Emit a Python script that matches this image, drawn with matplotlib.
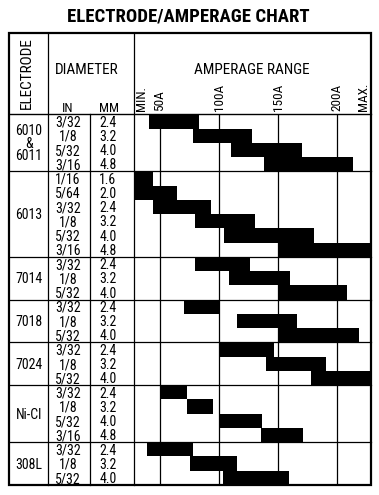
"""Electrode / amperage chart recreated as a table with range bars."""
import matplotlib.pyplot as plt
from matplotlib.patches import Rectangle

W, H, DPI = 379, 495, 100

electrodes = ["6010\n&\n6011", "6013", "7014", "7018", "7024", "Ni-Cl", "308L"]
dia_in = [
    ["3/32", "1/8", "5/32", "3/16"],
    ["1/16", "5/64", "3/32", "1/8", "5/32", "3/16"],
    ["3/32", "1/8", "5/32"],
    ["3/32", "1/8", "5/32"],
    ["3/32", "1/8", "5/32"],
    ["3/32", "1/8", "5/32", "3/16"],
    ["3/32", "1/8", "5/32"],
]
dia_mm = [
    ["2.4", "3.2", "4.0", "4.8"],
    ["1.6", "2.0", "2.4", "3.2", "4.0", "4.8"],
    ["2.4", "3.2", "4.0"],
    ["2.4", "3.2", "4.0"],
    ["2.4", "3.2", "4.0"],
    ["2.4", "3.2", "4.0", "4.8"],
    ["2.4", "3.2", "4.0"],
]
AMP_MIN, AMP_MAX = 28, 228
amp_lo = [
    [41, 78, 110, 138],
    [AMP_MIN, AMP_MIN, 44, 80, 104, 150],
    [80, 108, 150],
    [70, 115, 150],
    [100, 140, 178],
    [51, 73, 100, 135],
    [39, 75, 103],
]
amp_hi = [
    [83, 128, 170, 213],
    [44, 64, 93, 130, 180, AMP_MAX],
    [126, 160, 208],
    [100, 166, 218],
    [146, 190, AMP_MAX],
    [73, 95, 136, 171],
    [78, 115, 159],
]
grid_amps = [50, 100, 150, 200]
tick_pos = [34, 50, 100, 150, 200, 222]
tick_lab = ["MIN.", "50A", "100A", "150A", "200A", "MAX."]

plt.rcParams["font.family"] = ["Roboto Condensed", "DejaVu Sans"]

# table geometry in pixels
LEFT, RIGHT, TOP, BOTTOM = 8.5, 370.5, 33, 485
BODY_TOP = 114.3
COL_IN, COL_MM, COL_AMP = 47.5, 90.3, 134
n_rows = sum(len(g) for g in dia_in)
ROW_H = (BOTTOM - BODY_TOP) / n_rows

fig = plt.figure(figsize=(W / DPI, H / DPI), dpi=DPI)
fig.patch.set_facecolor("white")

tab = fig.add_axes([0, 0, 1, 1])
tab.set_xlim(0, W)
tab.set_ylim(H, 0)
tab.axis("off")

# amperage bars
ax = fig.add_axes([COL_AMP / W, (H - BOTTOM) / H,
                   (RIGHT - COL_AMP) / W, (BOTTOM - BODY_TOP) / H])
ax.set_xlim(AMP_MIN, AMP_MAX)
ax.set_ylim(n_rows, 0)
ax.patch.set_alpha(0)
for s in ax.spines.values():
    s.set_visible(False)
for a in grid_amps:
    ax.axvline(a, color="black", lw=0.9, zorder=1)

row = 0
for lo, hi in zip(amp_lo, amp_hi):
    ax.barh([row + i + 0.5 for i in range(len(lo))],
            [h - l for l, h in zip(lo, hi)], left=lo, height=1.0,
            color="black", zorder=2)
    row += len(lo)

ax.xaxis.tick_top()
ax.set_xticks(tick_pos)
ax.set_xticklabels(tick_lab, rotation=90, fontsize=9.5, va="bottom")
ax.tick_params(axis="x", length=0, pad=2.5)
ax.set_yticks([])

# table lines
tab.add_patch(Rectangle((LEFT, TOP), RIGHT - LEFT, BOTTOM - TOP,
                        fill=False, lw=1.6, ec="black", zorder=5))
for x in (COL_IN, COL_AMP):
    tab.plot([x, x], [TOP, BOTTOM], color="black", lw=0.9)
tab.plot([COL_MM, COL_MM], [BODY_TOP, BOTTOM], color="black", lw=0.9)
tab.plot([LEFT, RIGHT], [BODY_TOP, BODY_TOP], color="black", lw=1.0)

row = 0
for g, name in enumerate(electrodes):
    n = len(dia_in[g])
    y0 = BODY_TOP + row * ROW_H
    tab.text(29, y0 + n * ROW_H / 2 + 1, name,
             ha="center", va="center", fontsize=10, linespacing=0.85)
    for i in range(n):
        yc = y0 + (i + 0.5) * ROW_H + 1.2
        tab.text(68, yc, dia_in[g][i], ha="center", va="center", fontsize=10)
        tab.text(108, yc, dia_mm[g][i], ha="center", va="center", fontsize=10)
    row += n
    if row < n_rows:
        yb = BODY_TOP + row * ROW_H
        tab.plot([LEFT, RIGHT], [yb, yb], color="black", lw=0.9)

# header text
tab.text(27, 73, "ELECTRODE", rotation=90, ha="center", va="center", fontsize=11)
tab.text(87, 70, "DIAMETER", ha="center", va="center", fontsize=11)
tab.text(252, 70, "AMPERAGE RANGE", ha="center", va="center", fontsize=11)
tab.text(68, 111.5, "IN", ha="center", va="baseline", fontsize=9.5)
tab.text(109, 111.5, "MM", ha="center", va="baseline", fontsize=9.5)

fig.text(188 / W, 1 - 16.5 / H, "ELECTRODE/AMPERAGE CHART", ha="center",
         va="center", fontsize=13.5, fontweight="bold")

fig.savefig("out.png", dpi=DPI)
